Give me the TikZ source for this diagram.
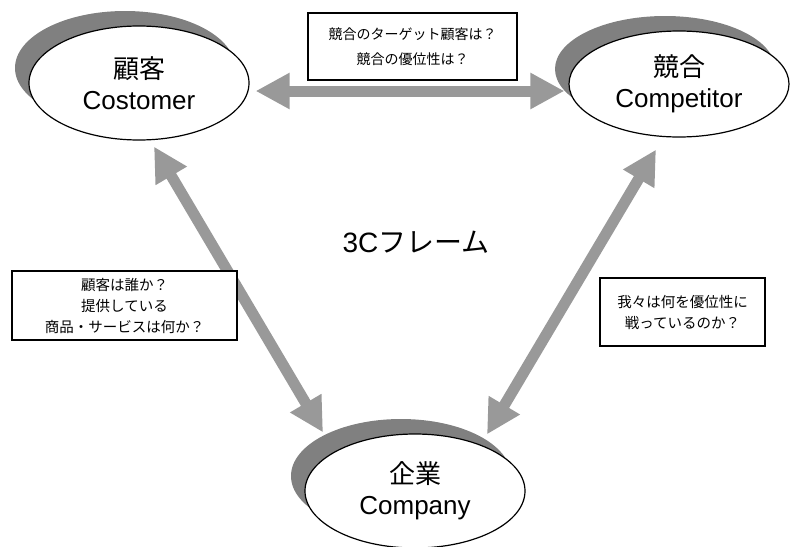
\documentclass[tikz,border=0pt]{standalone}
\usepackage{fontspec}
\setmainfont{Liberation Sans}
\newfontfamily\jp{Noto Sans CJK JP}
\usetikzlibrary{shapes.geometric,shadows,arrows.meta}

\begin{document}
\begin{tikzpicture}[x=1pt, y=-1pt, every node/.style={align=center, inner sep=0pt},
        party/.style={ellipse, draw, line width=1.2pt, fill=white, minimum width=220pt, minimum height=114pt, font=\fontsize{26}{31}\selectfont, drop shadow={shadow xshift=-14pt, shadow yshift=15pt, opacity=1, fill=black!50}},
        note/.style={draw, rectangle, line width=1.2pt, fill=white, font=\jp\fontsize{14.5}{21}\selectfont},
        link/.style={{Triangle[length=34pt,width=34pt]}-{Triangle[length=34pt,width=34pt]}, line width=11pt, color=black!40}]
        \useasboundingbox (0,0) rectangle (792,546);

        \node (customer) [party] at (139,83) {{\jp 顧客}\\Costomer};
        \node (competitor) [party, minimum height=106pt] at (679,84) {{\jp 競合}\\Competitor};
        \node (company) [party] at (415,491) {{\jp 企業}\\Company};

        \draw[link] ([xshift=6pt,yshift=-8pt]customer.east) -- ([xshift=-4pt,yshift=-7pt]competitor.west);
        \draw[link] ([xshift=15pt,yshift=-6pt]customer.south) -- ([xshift=-92pt,yshift=1pt]company.north);
        \draw[link] ([xshift=-23pt,yshift=-12pt]competitor.south) -- ([xshift=72pt,yshift=-1pt]company.north);

        \node (title) at (416,242) {\fontsize{28}{28}\selectfont 3C{\jp フレーム}};

        \node (q_rival) [note, minimum width=209pt, minimum height=67pt, font=\jp\fontsize{14}{25}\selectfont] at (412.5,46.5) {競合のターゲット顧客は？\\競合の優位性は？};
        \node (q_cust) [note, minimum width=225pt, minimum height=69pt] at (124.5,305.5) {顧客は誰か？\\提供している\\商品・サービスは何か？};
        \node (q_self) [note, minimum width=165pt, minimum height=68pt] at (682.5,312) {我々は何を優位性に\\戦っているのか？};
\end{tikzpicture}
\end{document}
